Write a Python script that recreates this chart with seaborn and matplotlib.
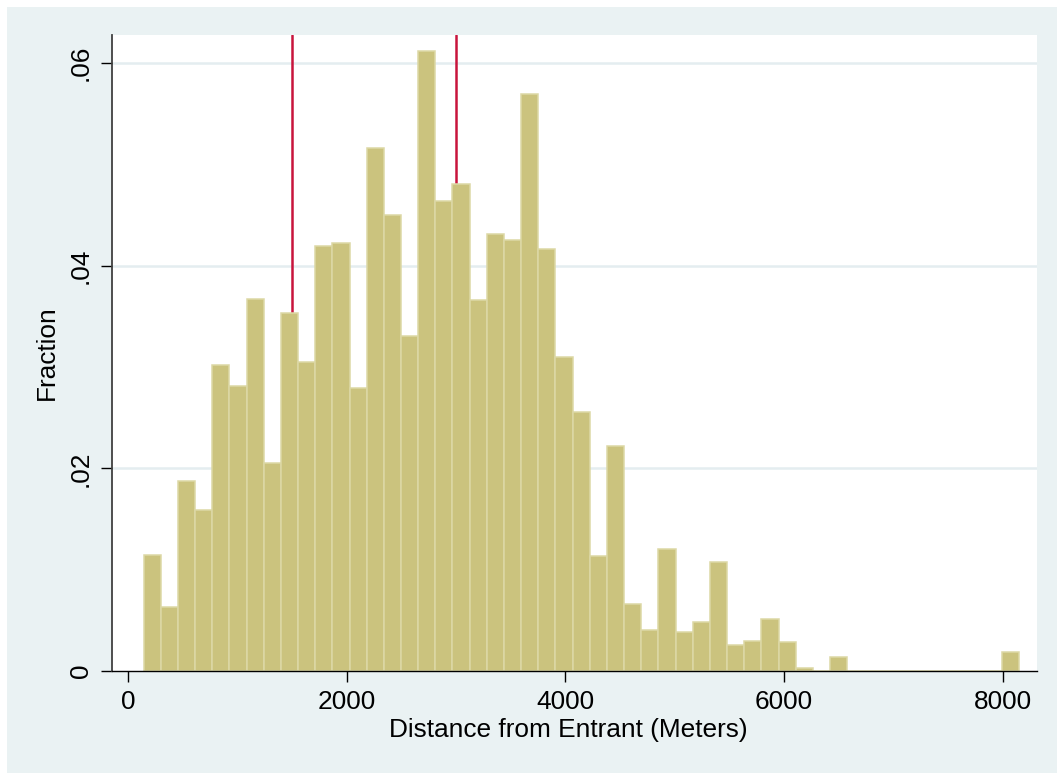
import numpy as np
import pandas as pd
import matplotlib
matplotlib.use("Agg")
import matplotlib.pyplot as plt
import seaborn as sns
from matplotlib.patches import Rectangle

# ---- data ----
bin_start = 140.0
bin_width = 157.0
fractions = [
    0.01143, 0.00628, 0.01879, 0.01588, 0.03015, 0.02807, 0.03667, 0.02050,
    0.03534, 0.03048, 0.04191, 0.04224, 0.02794, 0.05156, 0.04495, 0.03301,
    0.06116, 0.04636, 0.04802, 0.03663, 0.04308, 0.04249, 0.05692, 0.04162,
    0.03094, 0.02557, 0.01135, 0.02220, 0.00665, 0.00407, 0.01206, 0.00382,
    0.00488, 0.01071, 0.00254, 0.00297, 0.00517, 0.00290, 0.00033, 0.00000,
    0.00142, 0.00000, 0.00000, 0.00000, 0.00000, 0.00000, 0.00000, 0.00000,
    0.00000, 0.00000, 0.00188,
]
ref_lines = [1500, 3000]
x_ticks = [0, 2000, 4000, 6000, 8000]
y_ticks = [0, 0.02, 0.04, 0.06]
y_tick_labels = ["0", ".02", ".04", ".06"]
x_label = "Distance from Entrant (Meters)"
y_label = "Fraction"

n_bins = len(fractions)
edges = [float(bin_start + bin_width * i) for i in range(n_bins + 1)]
centers = [(edges[i] + edges[i + 1]) / 2 for i in range(n_bins)]
df = pd.DataFrame({"distance": centers, "fraction": fractions})

sns.set_theme(style="white")
plt.rcParams["font.family"] = ["Liberation Sans", "DejaVu Sans"]

W, H = 1057, 773
fig = plt.figure(figsize=(W / 100, H / 100), dpi=100, facecolor="white")
bg = "#EAF2F3"
fig.patches.append(Rectangle((7 / W, 0), 1 - 7 / W, 1 - 7 / H,
                             transform=fig.transFigure, facecolor=bg,
                             edgecolor="none", zorder=-10))

left, right = 112 / W, 1036.7 / W
bottom, top = (H - 671) / H, (H - 35) / H
ax = fig.add_axes([left, bottom, right - left, top - bottom])
ax.set_facecolor("white")

for yv in y_ticks[1:]:
    ax.axhline(yv, color="#E4EDF0", lw=1.8, zorder=0)
for xv in ref_lines:
    ax.axvline(xv, color="#C8143C", lw=1.8, zorder=1)

sns.histplot(data=df, x="distance", weights="fraction", bins=edges,
             stat="count", ax=ax, color="#CBC37E", alpha=1.0,
             edgecolor="#DCD8A6", linewidth=1.1, zorder=2)

ax.set_xlim(-149, 8311)
ax.set_ylim(0, 0.06274)
ax.set_xticks(x_ticks)
ax.set_xticklabels([str(v) for v in x_ticks])
ax.set_yticks(y_ticks)
ax.set_yticklabels(y_tick_labels, rotation=90, va="center")

fs = 18.9
ax.tick_params(axis="both", which="major", direction="out", length=8,
               width=1.0, color="black", labelsize=fs, labelcolor="black",
               pad=6, left=True, bottom=True)
ax.set_xlabel(x_label, fontsize=fs, color="black")
ax.set_ylabel(y_label, fontsize=fs, color="black", labelpad=7)
ax.xaxis.set_label_coords((568 - 112) / (1036.7 - 112), -0.074)

for s in ["top", "right"]:
    ax.spines[s].set_visible(False)
ax.spines["left"].set_color("#404040")
ax.spines["left"].set_linewidth(1.3)
ax.spines["bottom"].set_color("black")
ax.spines["bottom"].set_linewidth(1.0)
ax.grid(False)

fig.savefig("out.png", dpi=100, facecolor=fig.get_facecolor())
